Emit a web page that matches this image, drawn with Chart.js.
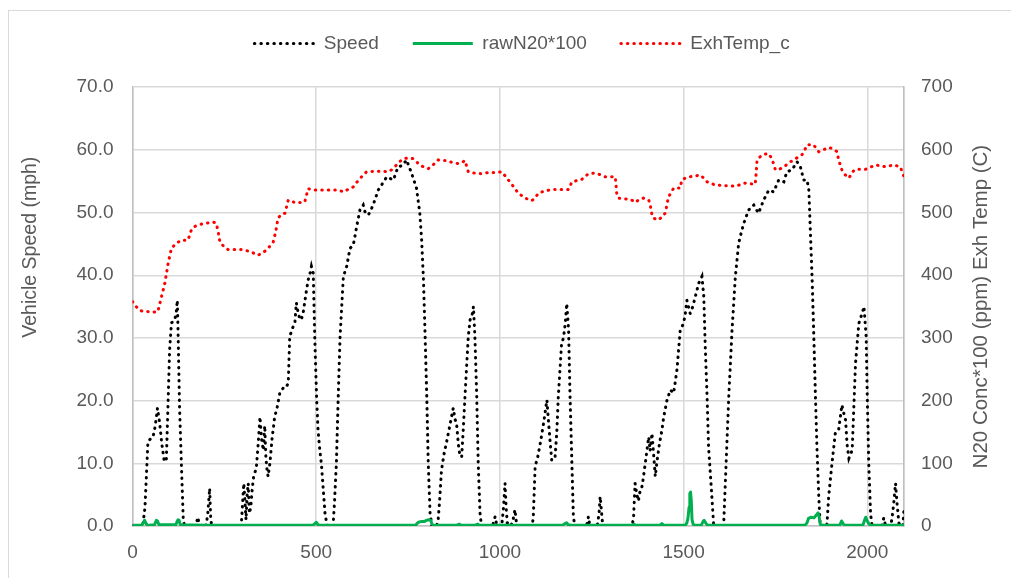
<!DOCTYPE html>
<html>
<head>
<meta charset="utf-8">
<script src="https://cdn.jsdelivr.net/npm/chart.js@4.4.1/dist/chart.umd.min.js"></script>
<style>
  html, body { margin: 0; padding: 0; background: #ffffff; }
  #wrap { position: relative; width: 1011px; height: 578px; overflow: hidden; }
  #frame { position: absolute; left: 8px; top: 10px; width: 1100px; height: 700px;
           border-top: 1px solid #d9d9d9; border-left: 1px solid #d9d9d9; }
  #c { position: absolute; left: 0; top: 0; }
</style>
</head>
<body>
<div id="wrap"><div id="frame"></div><canvas id="c" width="1011" height="578"></canvas></div>
<script>
// Vehicle speed trace (time in s, speed in mph)
const speedTime = [
  0, 28, 34, 42, 50, 56, 62, 68, 74, 80,
  86, 92, 96, 101, 106, 110, 115, 119, 122, 124,
  128, 133, 138, 141, 172, 178, 182, 200, 205, 210,
  213, 216, 296, 300, 303, 306, 309, 312, 315, 318,
  322, 326, 330, 337, 342, 347, 351, 356, 360, 363,
  366, 369, 374, 380, 387, 394, 401, 410, 417, 424,
  428, 435, 442, 446, 451, 456, 460, 465, 472, 478,
  484, 487, 492, 496, 501, 505, 510, 514, 519, 524,
  530, 546, 550, 555, 560, 565, 570, 574, 583, 592,
  601, 610, 619, 628, 633, 642, 655, 669, 678, 692,
  710, 723, 735, 746, 760, 773, 782, 787, 792, 796,
  801, 805, 810, 815, 828, 832, 836, 841, 848, 855,
  864, 873, 878, 882, 887, 891, 896, 900, 905, 910,
  914, 919, 924, 928, 932, 937, 941, 946, 950, 980,
  987, 992, 1005, 1010, 1014, 1017, 1020, 1030, 1036, 1041,
  1046, 1088, 1091, 1096, 1103, 1110, 1119, 1128, 1132, 1136,
  1141, 1150, 1155, 1159, 1168, 1173, 1178, 1182, 1187, 1191,
  1196, 1200, 1204, 1236, 1241, 1245, 1265, 1270, 1273, 1277,
  1280, 1360, 1364, 1368, 1373, 1377, 1382, 1386, 1391, 1398,
  1405, 1409, 1414, 1419, 1423, 1427, 1434, 1441, 1446, 1455,
  1464, 1473, 1482, 1491, 1500, 1505, 1509, 1518, 1525, 1532,
  1541, 1550, 1555, 1559, 1564, 1568, 1577, 1582, 1609, 1614,
  1623, 1632, 1641, 1650, 1657, 1664, 1677, 1691, 1704, 1718,
  1732, 1745, 1759, 1773, 1781, 1795, 1809, 1818, 1827, 1836,
  1841, 1845, 1850, 1854, 1859, 1863, 1868, 1872, 1890, 1895,
  1904, 1913, 1922, 1931, 1936, 1941, 1945, 1950, 1959, 1968,
  1977, 1986, 1991, 1997, 2000, 2004, 2009, 2013, 2040, 2045,
  2050, 2064, 2068, 2072, 2077, 2081, 2086, 2090, 2097, 2100
];
const speedMph = [
  0, 0, 3, 13.4, 14, 14.2, 16, 18.8, 16.4, 13,
  10.5, 10.3, 18, 28, 32.4, 32.6, 32.9, 34, 36, 31,
  19, 10, 1.3, 0, 0, 1.4, 0, 0, 2, 6,
  1, 0, 0, 4, 6.8, 4, 1, 5, 6.8, 2,
  3, 6, 8, 9.2, 13, 17.4, 14, 12.1, 16, 11,
  9, 7.9, 10, 14, 17.4, 19, 21.2, 22, 22, 22.8,
  30.2, 31.5, 32.4, 35.6, 34, 32.9, 33, 34.2, 37, 39.2,
  40.5, 41.4, 40.3, 30.2, 20.6, 15.3, 12, 10, 6, 2,
  0, 0, 4, 10, 20.6, 30.2, 35.5, 39.8, 41.4, 44.3,
  44.8, 47.7, 50.4, 51.2, 50.1, 49.6, 51.2, 53.6, 54.4, 55.7,
  55.2, 57.3, 57.5, 58.4, 56.2, 53.9, 49.9, 45.6, 39.2, 31.3,
  20.6, 10, 2, 0, 0, 1, 4, 8.9, 11.5, 13.4,
  16.1, 18.8, 17, 16.4, 13, 11.3, 11, 15, 20.6, 26,
  30.2, 32.9, 33.5, 35, 30.2, 20.6, 10, 2, 0, 0,
  1.5, 0, 0, 3, 6.8, 3, 0.5, 0, 1, 2.6,
  0, 0, 1.5, 9.5, 11, 13.2, 16.4, 20.1, 16.9, 14,
  10.5, 10.8, 15, 20.6, 29.1, 30, 32.3, 35.5, 31.3, 20.6,
  10, 1.5, 0, 0, 1.5, 0, 0, 2, 4.7, 2,
  0, 0, 1.5, 6.8, 5, 4, 5.7, 6, 7.9, 11,
  14.2, 12, 14.8, 11, 7.9, 10, 13, 15.3, 17.4, 20.1,
  21.7, 21.2, 24.9, 31.3, 32.3, 34, 36, 33.9, 35, 36.6,
  38.7, 39.8, 36.6, 28.6, 20.6, 12.6, 4.7, 0, 0, 7.3,
  20.6, 31.3, 39.8, 45.1, 46.8, 48.3, 50.4, 51.2, 49.9, 52,
  53.6, 53.3, 55.2, 54.9, 56.5, 56.8, 58.1, 57.3, 55.2, 55.2,
  53.6, 47.2, 39.2, 31.3, 20.6, 12.6, 4.7, 0, 0, 4.7,
  10, 14.8, 15.3, 19.3, 18, 16.9, 13, 10.8, 12.1, 25.9,
  32.3, 33.9, 35, 30.2, 20.6, 10, 2, 0, 0, 1.3,
  0, 0, 1.5, 3.6, 6.8, 3.6, 0.5, 0, 0, 2.6
];

// Raw N2O concentration x100 (right axis)
const n2oTime = [
  0, 25, 30, 33, 36, 40, 60, 65, 68, 72,
  118, 122, 124, 127, 130, 200, 350, 490, 497, 500,
  505, 510, 770, 778, 785, 795, 800, 806, 812, 815,
  820, 880, 890, 895, 930, 940, 945, 1170, 1178, 1182,
  1186, 1200, 1360, 1365, 1370, 1436, 1441, 1446, 1505, 1509,
  1512, 1515, 1517, 1519, 1521, 1523, 1526, 1530, 1548, 1553,
  1556, 1560, 1565, 1700, 1830, 1836, 1840, 1848, 1855, 1862,
  1866, 1869, 1872, 1878, 1925, 1930, 1935, 1940, 1988, 1993,
  1996, 2000, 2005, 2010, 2100
];
const n2oX100 = [
  1, 1, 6, 9, 5, 1, 2, 9, 8, 2,
  2, 8, 10, 9, 2, 1, 1, 1, 4, 6,
  2, 1, 1, 6, 7, 7, 9, 10, 9, 3,
  1, 1, 3, 1, 1, 3, 1, 1, 4, 5,
  2, 1, 1, 3, 1, 1, 4, 1, 1, 5,
  13, 30, 52, 54, 40, 10, 3, 1, 1, 7,
  9, 5, 1, 1, 1, 5, 12, 14, 13, 18,
  21, 15, 3, 1, 1, 8, 3, 1, 1, 10,
  14, 8, 3, 1, 1
];

// Exhaust temperature, deg C (right axis)
const tempTime = [
  0, 10, 20, 30, 42, 55, 69, 79, 88, 97,
  106, 119, 133, 151, 160, 170, 178, 190, 201, 219,
  228, 233, 238, 250, 260, 280, 296, 320, 342, 365,
  383, 390, 396, 405, 415, 424, 433, 442, 458, 469,
  478, 496, 520, 551, 565, 574, 590, 601, 610, 619,
  628, 637, 660, 680, 696, 705, 714, 725, 737, 750,
  764, 775, 782, 795, 805, 818, 832, 845, 855, 870,
  887, 900, 905, 914, 930, 950, 970, 990, 1005, 1015,
  1023, 1035, 1050, 1069, 1087, 1095, 1105, 1120, 1135, 1150,
  1170, 1187, 1196, 1210, 1223, 1241, 1259, 1275, 1287, 1300,
  1314, 1316, 1318, 1323, 1340, 1359, 1368, 1380, 1391, 1405,
  1409, 1412, 1418, 1432, 1450, 1459, 1466, 1473, 1491, 1495,
  1505, 1514, 1530, 1545, 1555, 1564, 1586, 1610, 1641, 1668,
  1695, 1698, 1700, 1710, 1718, 1732, 1740, 1745, 1750, 1764,
  1780, 1791, 1805, 1822, 1830, 1836, 1854, 1868, 1880, 1895,
  1905, 1918, 1922, 1931, 1940, 1950, 1960, 1968, 1995, 2023,
  2050, 2072, 2090, 2100
];
const tempC = [
  358, 350, 344, 342, 342, 341, 342, 366, 387, 419,
  443, 451, 456, 456, 472, 478, 480, 482, 483, 485,
  483, 470, 453, 445, 441, 441, 441, 438, 432, 440,
  453, 470, 491, 497, 499, 520, 518, 516, 516, 517,
  538, 536, 536, 536, 535, 533, 538, 541, 548, 554,
  560, 565, 566, 566, 565, 568, 573, 580, 586, 587,
  586, 580, 576, 572, 570, 576, 584, 583, 583, 580,
  578, 581, 583, 565, 563, 562, 564, 564, 565, 558,
  552, 543, 531, 523, 519, 523, 531, 534, 536, 537,
  537, 537, 549, 551, 553, 562, 563, 560, 557, 557,
  557, 545, 531, 523, 522, 520, 516, 521, 523, 520,
  514, 501, 491, 488, 499, 525, 532, 539, 539, 552,
  555, 557, 558, 560, 555, 549, 544, 543, 542, 547,
  545, 565, 584, 590, 593, 594, 586, 578, 568, 570,
  576, 581, 586, 592, 600, 608, 608, 597, 600, 604,
  602, 597, 584, 568, 560, 555, 565, 569, 569, 576,
  573, 576, 573, 557
];

// Axis ticks
const timeTicks = [0, 500, 1000, 1500, 2000];
const timeMax = 2100;
const speedTicks = [0, 10, 20, 30, 40, 50, 60, 70];
const rightTicks = [0, 100, 200, 300, 400, 500, 600, 700];

const seriesNames = ['Speed', 'rawN20*100', 'ExhTemp_c'];
const leftTitle = 'Vehicle Speed (mph)';
const rightTitle = 'N20 Conc*100 (ppm) Exh Temp (C)';

const FAMILY = "'Liberation Sans', Arial, sans-serif";
const TEXT = '#595959';
const GRID = '#d9d9d9';
const AXIS = '#bfbfbf';

const pts = (xs, ys) => xs.map((x, i) => ({ x: x, y: ys[i] }));
const asTicks = (vals) => vals.map((v) => ({ value: v }));

// Rotated axis titles (both read bottom-to-top)
const axisTitles = {
  id: 'axisTitles',
  afterDraw(chart) {
    const { ctx, chartArea: a } = chart;
    ctx.save();
    ctx.fillStyle = TEXT;
    ctx.textAlign = 'center';
    ctx.textBaseline = 'middle';
    ctx.font = '19.5px ' + FAMILY;
    ctx.translate(a.left - 102, a.top + 160);
    ctx.rotate(-Math.PI / 2);
    ctx.fillText(leftTitle, 0, 0);
    ctx.restore();
    ctx.save();
    ctx.fillStyle = TEXT;
    ctx.textAlign = 'center';
    ctx.textBaseline = 'middle';
    ctx.font = '20.5px ' + FAMILY;
    ctx.translate(a.right + 77, (a.top + a.bottom) / 2);
    ctx.rotate(-Math.PI / 2);
    ctx.fillText(rightTitle, 0, 0);
    ctx.restore();
  }
};

const dotted = [0.5, 6];

new Chart(document.getElementById('c'), {
  type: 'scatter',
  data: {
    datasets: [
      {
        label: seriesNames[0], data: pts(speedTime, speedMph), yAxisID: 'y',
        showLine: true, borderColor: '#000000', backgroundColor: '#000000',
        borderWidth: 3, borderDash: dotted, borderCapStyle: 'round',
        pointRadius: 0, pointHoverRadius: 0, tension: 0, order: 3
      },
      {
        label: seriesNames[1], data: pts(n2oTime, n2oX100), yAxisID: 'y2',
        showLine: true, borderColor: '#00b050', backgroundColor: '#00b050',
        borderWidth: 3, borderJoinStyle: 'round', borderCapStyle: 'butt',
        pointRadius: 0, pointHoverRadius: 0, tension: 0, order: 2
      },
      {
        label: seriesNames[2], data: pts(tempTime, tempC), yAxisID: 'y2',
        showLine: true, borderColor: '#ff0000', backgroundColor: '#ff0000',
        borderWidth: 3, borderDash: dotted, borderCapStyle: 'round',
        pointRadius: 0, pointHoverRadius: 0, tension: 0, order: 1
      }
    ]
  },
  options: {
    responsive: false,
    animation: false,
    devicePixelRatio: 1,
    layout: { padding: { left: 33, right: 0, top: 0, bottom: 0 } },
    plugins: {
      tooltip: { enabled: false },
      subtitle: {
        display: true, text: '', weight: 500, position: 'top',
        font: { size: 1 }, padding: { top: 0, bottom: 23 }
      },
      legend: {
        position: 'top',
        labels: {
          color: TEXT,
          font: { family: FAMILY, size: 19 },
          usePointStyle: true,
          pointStyleWidth: 60,
          padding: 34,
          sort: (a, b) => a.datasetIndex - b.datasetIndex,
          generateLabels(chart) {
            const items = Chart.defaults.plugins.legend.labels.generateLabels(chart);
            items.forEach((it) => {
              const ds = chart.data.datasets[it.datasetIndex];
              it.pointStyle = 'line';
              it.lineDash = ds.borderDash || [];
              it.lineCap = ds.borderCapStyle || 'butt';
              it.lineWidth = ds.borderWidth;
              it.strokeStyle = ds.borderColor;
              it.fillStyle = ds.borderColor;
            });
            return items;
          }
        }
      }
    },
    scales: {
      x: {
        type: 'linear', position: 'bottom', min: 0, max: timeMax,
        afterFit: (s) => { s.height = 52; },
        afterBuildTicks: (s) => { s.ticks = asTicks(timeTicks.concat([timeMax])); },
        ticks: {
          color: TEXT, padding: 15,
          font: { family: FAMILY, size: 19 },
          maxRotation: 0, autoSkip: false,
          callback: (v) => (timeTicks.includes(v) ? String(v) : '')
        },
        grid: { color: GRID, lineWidth: 1.5, drawTicks: false },
        border: { color: AXIS, width: 1.5 }
      },
      y: {
        type: 'linear', position: 'left', min: 0, max: 70,
        afterFit: (s) => { s.width = 99.5; },
        afterBuildTicks: (s) => { s.ticks = asTicks(speedTicks); },
        ticks: {
          color: TEXT, padding: 19,
          font: { family: FAMILY, size: 19 },
          callback: (v) => v.toFixed(1)
        },
        grid: { color: GRID, lineWidth: 1.5, drawTicks: false },
        border: { color: AXIS, width: 1.5 }
      },
      y2: {
        type: 'linear', position: 'right', min: 0, max: 700,
        afterFit: (s) => { s.width = 107; },
        afterBuildTicks: (s) => { s.ticks = asTicks(rightTicks); },
        ticks: {
          color: TEXT, padding: 17,
          font: { family: FAMILY, size: 19 },
          callback: (v) => String(v)
        },
        grid: { drawOnChartArea: false, drawTicks: false },
        border: { color: AXIS, width: 1.5 }
      }
    }
  },
  plugins: [axisTitles]
});
</script>
</body>
</html>
